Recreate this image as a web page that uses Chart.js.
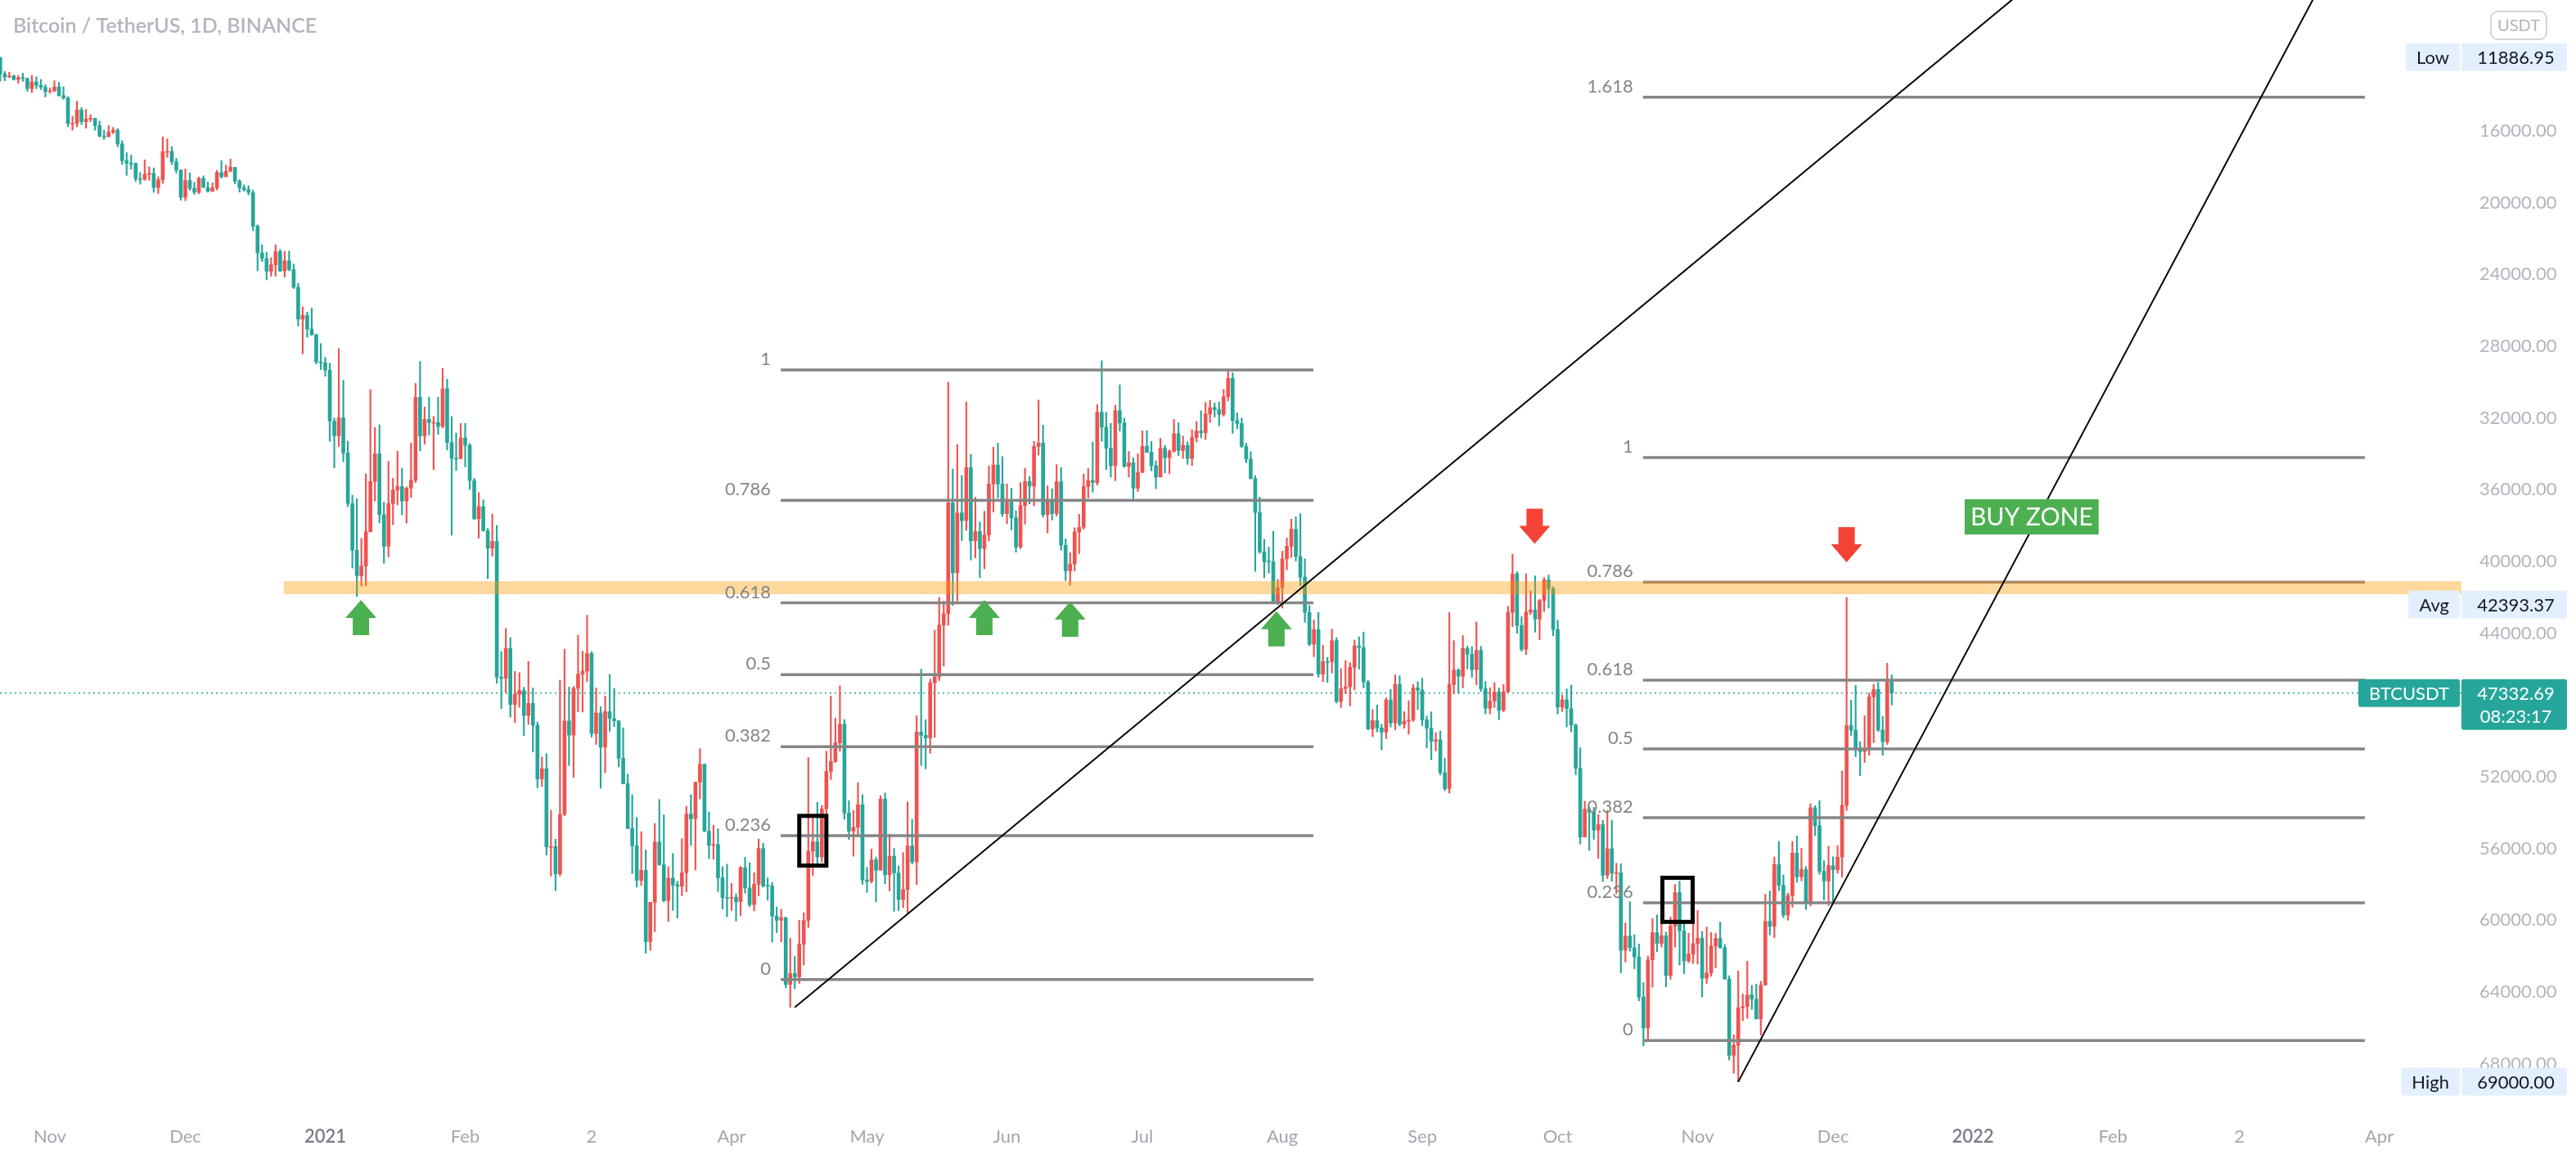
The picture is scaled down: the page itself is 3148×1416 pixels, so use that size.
<!DOCTYPE html>
<html>
<head>
<meta charset="utf-8">
<title>BTCUSDT 1D</title>
<script src="https://cdn.jsdelivr.net/npm/chart.js@4.4.1/dist/chart.umd.min.js"></script>
<style>
  html, body { margin: 0; padding: 0; background: #fff; overflow: hidden; }
  canvas { display: block; }
</style>
</head>
<body>
<canvas id="chart" width="3148" height="1416"></canvas>
<script>
// daily candles, first one is 2020-10-21, values in thousands of USDT
const firstOpenK = 11.92
const closeK = [
  12.82,12.99,12.93,13.13,13.03,13.07,13.64,13.27,13.46,13.56,13.80,
  13.76,13.55,14.03,14.16,15.59,15.58,14.83,15.48,15.33,15.30,15.70,16.28,16.32,16.07,15.96,16.72,17.66,17.80,17.82,18.66,18.70,18.42,18.36,19.16,18.72,17.15,17.14,17.72,18.18,19.70,
  18.76,19.20,19.42,18.65,19.15,19.36,19.17,18.32,18.55,18.25,18.03,18.80,19.17,19.27,19.43,21.31,22.80,23.11,23.82,23.46,22.72,23.81,23.24,23.73,24.71,26.49,26.28,27.04,27.36,28.88,28.92,
  29.33,32.18,33.00,31.99,33.95,36.77,39.37,40.80,40.25,38.35,35.54,34.00,37.39,39.15,36.77,36.01,35.82,36.63,35.91,35.47,30.85,33.00,32.08,32.26,32.25,32.47,30.37,33.37,34.25,34.26,33.11,
  33.52,35.49,37.62,36.94,38.29,39.26,38.87,46.45,46.51,44.84,47.97,47.41,47.19,48.58,47.91,49.13,52.12,51.55,55.91,55.89,57.41,54.09,48.89,49.68,47.07,46.28,46.11,45.13,
  49.59,48.44,50.35,48.37,48.75,48.88,50.97,52.39,54.88,55.85,57.77,57.22,61.19,59.00,55.64,56.90,58.91,57.65,58.03,58.10,57.35,54.08,54.34,52.30,51.30,55.03,55.82,55.78,57.63,58.73,58.74,
  58.72,58.96,57.06,58.20,59.13,57.99,56.00,58.09,58.09,59.77,60.00,59.86,63.58,62.96,63.16,61.33,60.01,56.15,55.63,56.47,53.79,51.70,51.15,50.11,49.08,54.02,55.03,54.82,53.56,57.75,
  57.83,56.63,57.21,53.24,57.47,56.43,57.36,58.84,58.28,55.86,56.75,49.50,49.69,49.84,46.76,46.43,43.54,42.91,36.73,40.63,37.29,37.72,34.77,38.85,38.33,39.28,38.53,35.68,34.62,35.68,37.34,
  36.69,37.57,39.19,36.88,35.54,35.80,33.59,33.40,37.39,36.68,37.33,35.55,39.10,40.52,40.14,38.35,38.09,35.82,35.48,35.60,31.68,32.51,33.68,34.66,31.59,32.28,34.70,34.49,35.91,35.04,
  33.57,33.90,34.66,35.29,33.69,34.22,33.86,32.88,33.81,33.52,34.26,33.09,32.73,32.82,31.78,31.42,31.53,31.80,30.82,29.79,32.14,32.31,33.58,34.29,35.38,37.27,39.46,40.02,40.02,42.24,41.46,
  39.86,39.15,38.20,39.72,40.87,42.84,44.61,43.79,46.28,45.58,45.59,44.41,47.80,47.09,46.99,45.90,44.70,44.80,46.71,49.33,48.87,49.28,49.51,47.71,48.99,46.85,49.07,48.90,48.83,47.05,47.17,
  48.83,49.29,50.03,49.94,51.77,52.66,46.86,46.05,46.40,44.85,45.17,46.03,44.96,47.09,48.18,47.78,47.27,48.29,47.26,42.84,40.69,43.57,44.90,42.82,42.70,43.21,42.17,41.03,41.52,43.79,
  48.12,47.71,48.20,49.11,51.51,55.36,53.81,53.97,54.97,54.66,57.49,56.01,57.37,57.35,61.67,60.88,61.53,62.04,64.28,66.00,62.21,60.69,61.29,60.86,63.08,60.33,58.46,60.59,62.27,61.89,61.30,
  61.00,63.23,62.94,61.44,61.01,61.53,63.27,67.53,66.97,64.88,64.81,64.16,64.40,65.50,63.61,60.06,60.34,56.89,58.05,59.71,58.62,56.25,57.57,57.17,58.96,53.73,54.72,57.27,57.81,56.95,
  57.18,56.48,53.60,49.15,49.40,50.44,50.59,50.47,47.55,47.14,49.39,50.05,46.70,47.33
]
const highK = [
  13.22,13.20,13.03,13.17,13.35,13.24,13.79,13.86,13.64,13.69,14.10,
  13.90,13.82,14.07,14.24,15.77,15.96,15.77,15.65,15.85,15.48,15.96,16.34,16.48,16.33,16.16,16.88,17.86,18.48,18.13,18.82,18.97,18.75,18.75,19.42,19.49,18.92,17.47,17.88,18.35,19.86,
  19.89,19.31,19.53,19.50,19.16,19.42,19.38,19.29,18.63,18.56,18.27,18.95,19.41,19.35,19.57,21.56,23.80,23.28,24.30,24.10,24.10,23.84,24.14,23.80,24.78,26.87,28.42,27.50,27.39,28.99,29.30,
  29.68,33.30,34.78,33.60,34.44,36.94,40.37,41.95,41.38,41.35,38.26,36.63,37.85,40.10,39.75,37.95,36.85,37.40,37.86,36.42,35.60,33.83,33.46,32.94,34.88,32.92,32.56,33.78,38.53,34.93,34.29,
  34.72,35.98,37.66,38.70,38.31,40.96,39.70,46.79,48.20,47.31,48.68,48.98,48.13,49.70,49.08,50.62,52.62,52.55,56.37,57.54,58.35,57.53,54.18,51.37,52.04,48.37,48.39,46.70,
  49.79,50.20,52.64,51.77,49.47,49.20,51.45,52.40,54.90,57.39,58.15,58.06,61.84,61.68,60.63,56.94,58.98,60.07,59.45,59.88,58.63,58.41,55.83,57.20,53.24,55.07,56.57,56.60,58.40,59.37,59.80,
  59.46,60.04,59.75,58.49,59.24,59.48,58.64,58.15,58.88,61.22,60.69,61.20,63.77,64.85,63.82,63.52,62.50,60.41,57.50,57.00,56.76,55.48,52.15,51.20,50.58,54.36,55.50,56.43,55.20,58.00,
  58.45,57.93,58.98,57.20,57.97,58.36,59.50,59.46,59.30,59.59,56.87,58.00,51.37,51.56,50.70,49.80,46.64,45.82,43.55,42.45,42.20,38.83,38.27,39.92,39.80,40.90,40.41,38.86,37.24,36.45,37.50,
  37.90,38.23,39.48,39.29,37.92,36.79,36.90,34.07,37.53,38.40,37.69,37.47,39.38,41.06,41.33,40.53,39.56,38.20,36.46,36.14,35.74,33.30,34.88,35.30,35.50,32.73,34.75,35.30,36.60,36.10,
  35.04,33.94,34.95,35.94,35.29,35.06,35.10,33.90,34.09,34.25,34.59,34.66,33.34,33.11,33.19,32.25,31.95,32.43,31.90,31.05,32.86,32.60,33.65,34.50,35.40,40.55,39.54,40.90,40.64,42.32,42.41,
  42.60,40.46,39.78,39.97,41.35,43.39,44.70,45.31,46.45,46.70,46.74,46.22,47.89,48.14,47.37,48.05,47.16,46.00,47.05,49.38,49.76,49.50,50.50,49.88,49.23,49.38,49.17,49.30,49.63,48.91,48.25,
  49.15,50.40,51.05,50.56,51.90,52.78,52.92,47.38,47.34,47.04,45.99,46.46,46.88,47.25,48.49,48.50,48.14,48.81,48.37,47.33,43.63,44.00,45.00,45.19,42.96,43.94,44.35,42.79,42.60,44.13,
  48.50,48.36,49.23,49.50,51.89,55.75,55.34,56.10,55.49,56.56,57.84,57.68,57.82,58.53,62.93,62.33,61.72,62.70,64.49,67.00,66.64,63.73,61.75,61.49,63.71,63.29,61.50,62.50,62.98,62.36,62.41,
  62.44,64.27,63.52,63.13,62.64,61.56,63.29,67.79,68.53,69.00,65.60,65.46,64.97,65.50,66.40,63.62,60.82,60.98,58.35,59.86,60.00,59.27,57.88,57.80,59.40,59.20,55.28,57.44,58.87,59.18,
  59.04,57.37,57.60,53.87,49.70,50.88,51.94,51.20,50.80,50.10,49.48,50.80,50.20,48.00
]
const lowK = [
  11.89,12.68,12.72,12.88,12.90,12.78,13.05,12.91,12.98,13.13,13.42,
  13.60,13.20,13.29,13.53,14.09,15.18,14.34,14.70,14.80,15.09,15.28,15.45,15.96,15.70,15.80,15.87,16.54,17.21,17.35,17.77,18.32,17.61,18.00,18.06,18.55,16.33,16.44,16.87,17.52,18.18,
  18.12,18.33,18.86,18.57,18.50,18.85,18.90,18.20,17.65,17.91,17.57,18.02,18.71,19.00,19.05,19.29,21.23,22.35,22.75,23.06,22.35,22.60,22.70,22.70,23.42,24.50,25.80,26.10,25.88,27.32,27.85,
  28.62,28.95,32.00,28.13,29.90,33.29,36.30,36.50,38.72,35.11,30.42,32.53,32.38,36.70,34.41,35.36,33.85,34.80,35.84,33.40,30.07,28.85,31.39,30.84,31.91,30.84,29.24,29.84,31.92,32.84,32.30,
  32.30,33.42,35.36,36.16,36.57,38.15,37.35,37.99,45.02,43.73,44.24,46.13,46.20,47.01,45.57,47.05,48.95,50.90,50.71,53.86,55.48,46.61,44.89,47.00,46.97,44.11,45.00,43.00,
  45.02,47.05,48.10,47.50,46.30,47.07,48.88,49.27,51.85,53.00,54.27,55.06,56.08,59.00,54.60,53.27,54.12,57.02,56.27,57.82,55.45,53.65,53.00,52.30,50.43,51.28,53.96,54.70,54.90,57.01,56.87,
  57.94,58.52,57.00,56.48,56.79,57.35,55.47,55.70,57.64,57.90,59.25,59.38,59.82,61.00,62.02,60.00,59.58,50.93,54.22,53.42,53.59,50.58,47.50,48.73,46.93,48.81,53.33,53.88,52.33,53.00,
  57.05,56.03,56.48,53.05,52.90,55.20,56.00,56.97,56.23,53.40,54.37,48.60,46.00,48.82,46.56,43.83,42.00,42.21,30.00,34.85,33.49,35.20,31.11,34.03,36.42,37.80,37.20,34.68,33.63,33.40,34.15,
  35.67,35.92,37.17,35.60,34.80,35.26,33.30,31.00,32.40,35.78,35.94,34.60,34.76,38.73,39.51,38.12,37.37,35.13,34.82,33.34,31.25,28.81,31.68,32.30,31.28,30.15,32.00,33.86,34.23,34.00,
  32.71,32.70,33.31,34.39,33.13,33.53,33.77,32.08,32.26,33.00,33.33,32.66,32.20,31.60,31.13,31.02,31.16,31.10,30.41,29.28,29.48,31.71,32.00,33.40,33.88,35.21,36.41,38.77,39.20,38.31,41.00,
  39.42,38.69,37.64,37.51,37.33,39.85,42.45,43.26,42.84,44.67,45.34,43.77,44.24,45.97,45.52,45.64,44.38,44.20,43.93,46.64,48.25,48.00,49.07,47.60,47.13,46.32,46.37,48.37,47.76,46.86,46.70,
  46.51,48.61,48.38,49.53,49.45,50.97,42.84,44.41,45.98,44.13,44.72,44.75,43.37,44.73,46.69,47.04,46.75,47.05,46.85,42.50,39.60,40.57,43.07,40.68,41.64,40.80,42.10,40.89,40.75,41.41,
  43.28,47.44,47.10,46.89,49.06,50.38,53.36,53.66,53.70,54.10,54.42,53.88,54.42,56.82,56.85,60.15,58.96,60.80,61.32,63.48,62.00,59.90,59.70,59.51,60.66,59.82,58.00,57.82,60.17,60.72,60.07,
  59.45,60.62,60.38,60.68,60.72,60.10,61.35,63.09,66.38,62.82,64.10,62.28,63.63,63.55,63.40,58.56,58.37,56.47,55.60,57.47,58.49,55.61,55.30,55.99,57.00,53.50,53.61,53.33,56.68,55.88,
  56.46,55.84,51.68,42.00,47.73,46.90,50.04,48.60,47.32,46.85,46.75,48.64,45.67,46.33
]

// axis labels (x = day index from 2020-10-21)
const monthTickIdx = [11, 41, 72, 103, 131, 162, 192, 223, 253, 284, 315, 345, 376, 406, 437, 468, 496, 527]
const monthTickText = ['Nov', 'Dec', '2021', 'Feb', '2', 'Apr', 'May', 'Jun', 'Jul', 'Aug', 'Sep', 'Oct', 'Nov', 'Dec', '2022', 'Feb', '2', 'Apr']
const priceTicks = [12000, 16000, 20000, 24000, 28000, 32000, 36000, 40000, 44000, 48000, 52000, 56000, 60000, 64000, 68000]

// fibonacci retracements
const fibRatiosLeft = [0, 0.236, 0.382, 0.5, 0.618, 0.786, 1]
const fibLeftFrom = [172.9, 290.9]
const fibLeftPrice = [63300, 29320]
const fibRatiosRight = [0, 0.236, 0.382, 0.5, 0.618, 0.786, 1, 1.618]
const fibRightFrom = [363.9, 523.8]
const fibRightPrice = [66700, 34200]

// trend lines [x0, p0, x1, p1]
const trendLine1 = [176, 64854, 460, 5700]
const trendLine2 = [385, 69000, 530, 287]

// support band
const bandFrom = 62.8
const bandPrice = 41460

// markers
const upArrowX = [79.9, 218, 237, 282.7]
const upArrowTip = [42140, 42140, 42240, 42770]
const downArrowX = [339.9, 409]
const downArrowTip = [39020, 40050]
const boxX = [[177, 183], [368.2, 374.9]]
const boxPrice = [[54180, 56950], [57630, 60090]]
const buyZoneX = 450
const buyZonePrice = 37490

// right scale badges
const lowValue = 11886.95
const highValue = 69000
const avgValue = 42393.37
const lastPrice = 47332.69
const countdown = '08:23:17'

const xMin = -0.054
const xMax = 545.2
const UP = '#26a69a'
const DOWN = '#ef5350'
const FIB = '#858585'
const FONT = 'Lato, "Open Sans", sans-serif'

Chart.defaults.font.family = FONT

const opens = closeK.map((c, i) => (i === 0 ? firstOpenK : closeK[i - 1]) * 1000)
const closes = closeK.map(v => v * 1000)
const highs = highK.map(v => v * 1000)
const lows = lowK.map(v => v * 1000)
const candleColors = closes.map((c, i) => c >= opens[i] ? UP : DOWN)

function segment(x0, y0, x1, y1) {
  return [{x: x0, y: y0}, {x: x1, y: y1}]
}

const datasets = []

datasets.push({
  type: 'line',
  data: segment(xMin, lastPrice, xMax, lastPrice),
  borderColor: UP,
  borderWidth: 1.5,
  borderDash: [2, 4],
  pointRadius: 0,
  order: 10
})

datasets.push({
  type: 'bar',
  data: closes.map((c, i) => ({x: i, y: [lows[i], highs[i]]})),
  backgroundColor: candleColors,
  barThickness: 1.5,
  grouped: false,
  order: 9
})

datasets.push({
  type: 'bar',
  data: closes.map((c, i) => ({x: i, y: [opens[i], c]})),
  backgroundColor: candleColors,
  barThickness: 4,
  minBarLength: 1,
  grouped: false,
  order: 8
})

function addFib(ratios, from, price) {
  ratios.forEach(r => {
    const p = price[0] + (price[1] - price[0]) * r
    datasets.push({
      type: 'line',
      data: segment(from[0], p, from[1], p),
      borderColor: FIB,
      borderWidth: 3.5,
      pointRadius: 0,
      order: 5
    })
  })
}
addFib(fibRatiosLeft, fibLeftFrom, fibLeftPrice)
addFib(fibRatiosRight, fibRightFrom, fibRightPrice)

datasets.push({
  type: 'line',
  data: segment(bandFrom, bandPrice, xMax, bandPrice),
  borderColor: 'rgba(255, 152, 0, 0.38)',
  borderWidth: 16,
  borderCapStyle: 'butt',
  pointRadius: 0,
  order: 3
})

;[trendLine1, trendLine2].forEach(t => {
  datasets.push({
    type: 'line',
    data: segment(t[0], t[1], t[2], t[3]),
    borderColor: '#000',
    borderWidth: 2,
    pointRadius: 0,
    order: 1
  })
})

function drawArrow(ctx, x, tip, dir, color) {
  const headW = 38, headH = 22, stemW = 20, stemH = 21
  ctx.fillStyle = color
  ctx.beginPath()
  ctx.moveTo(x, tip)
  ctx.lineTo(x + headW / 2, tip + dir * headH)
  ctx.lineTo(x + stemW / 2, tip + dir * headH)
  ctx.lineTo(x + stemW / 2, tip + dir * (headH + stemH))
  ctx.lineTo(x - stemW / 2, tip + dir * (headH + stemH))
  ctx.lineTo(x - stemW / 2, tip + dir * headH)
  ctx.lineTo(x - headW / 2, tip + dir * headH)
  ctx.closePath()
  ctx.fill()
}

function fillRound(ctx, x, y, w, h, r, color) {
  ctx.fillStyle = color
  ctx.beginPath()
  ctx.roundRect(x, y, w, h, r)
  ctx.fill()
}

const overlay = {
  id: 'overlay',
  afterDatasetsDraw(chart) {
    const ctx = chart.ctx
    const xs = chart.scales.x
    const ys = chart.scales.y
    ctx.save()

    // fib labels
    ctx.font = '22px ' + FONT
    ctx.fillStyle = FIB
    ctx.textAlign = 'right'
    ctx.textBaseline = 'middle'
    const fibText = (ratios, from, price) => {
      ratios.forEach(r => {
        const p = price[0] + (price[1] - price[0]) * r
        ctx.fillText(String(r), xs.getPixelForValue(from[0]) - 12, ys.getPixelForValue(p) - 13)
      })
    }
    fibText(fibRatiosLeft, fibLeftFrom, fibLeftPrice)
    fibText(fibRatiosRight, fibRightFrom, fibRightPrice)

    // black boxes
    ctx.strokeStyle = '#000'
    ctx.lineWidth = 5
    boxX.forEach((bx, k) => {
      const x0 = xs.getPixelForValue(bx[0])
      const x1 = xs.getPixelForValue(bx[1])
      const y0 = ys.getPixelForValue(boxPrice[k][0])
      const y1 = ys.getPixelForValue(boxPrice[k][1])
      ctx.strokeRect(x0, y0, x1 - x0, y1 - y0)
    })

    // arrows
    upArrowX.forEach((v, k) => drawArrow(ctx, xs.getPixelForValue(v), ys.getPixelForValue(upArrowTip[k]), 1, '#4caf50'))
    downArrowX.forEach((v, k) => drawArrow(ctx, xs.getPixelForValue(v), ys.getPixelForValue(downArrowTip[k]), -1, '#f44336'))

    // BUY ZONE label
    ctx.font = '30px ' + FONT
    const bzW = ctx.measureText('BUY ZONE').width + 14
    const bzX = xs.getPixelForValue(buyZoneX)
    const bzY = ys.getPixelForValue(buyZonePrice)
    ctx.fillStyle = '#4caf50'
    ctx.fillRect(bzX - bzW / 2, bzY - 21, bzW, 43)
    ctx.fillStyle = '#fff'
    ctx.textAlign = 'center'
    ctx.fillText('BUY ZONE', bzX, bzY + 1)

    // title
    ctx.font = '600 25px ' + FONT
    ctx.fillStyle = '#b2b5be'
    ctx.textAlign = 'left'
    ctx.fillText('Bitcoin / TetherUS, 1D, BINANCE', 16, 32)
    ctx.restore()
  },
  afterDraw(chart) {
    const ctx = chart.ctx
    const ys = chart.scales.y
    const right = chart.chartArea.right
    const valX = right, valW = 129
    ctx.save()
    ctx.textBaseline = 'middle'
    ctx.textAlign = 'center'

    // USDT currency box
    ctx.strokeStyle = '#d1d4dc'
    ctx.lineWidth = 2
    ctx.beginPath()
    ctx.roundRect(3044, 14, 68, 34, 8)
    ctx.stroke()
    ctx.fillStyle = '#b2b5be'
    ctx.font = '20px ' + FONT
    ctx.fillText('USDT', 3078, 32)
    ctx.font = '22px ' + FONT

    const infoBadge = (label, value, price) => {
      const y = ys.getPixelForValue(price)
      const lw = ctx.measureText(label).width + 26
      fillRound(ctx, right - 2 - lw, y - 17, lw, 34, 2, '#e3effd')
      fillRound(ctx, valX, y - 17, valW, 34, 2, '#e3effd')
      ctx.fillStyle = '#131722'
      ctx.fillText(label, right - 2 - lw / 2, y + 1)
      ctx.fillText(value, valX + valW / 2 + 2, y + 1)
    }
    infoBadge('Low', lowValue.toFixed(2), lowValue)
    infoBadge('Avg', avgValue.toFixed(2), avgValue)
    infoBadge('High', highValue.toFixed(2), highValue)

    // last price
    const y = ys.getPixelForValue(lastPrice)
    const lw = ctx.measureText('BTCUSDT').width + 26
    fillRound(ctx, right - 2 - lw, y - 17, lw, 34, 3, UP)
    fillRound(ctx, valX, y - 17, valW, 62, 3, UP)
    ctx.fillStyle = '#fff'
    ctx.fillText('BTCUSDT', right - 2 - lw / 2, y + 1)
    ctx.fillText(lastPrice.toFixed(2), valX + valW / 2 + 2, y + 1)
    ctx.fillText(countdown, valX + valW / 2 + 2, y + 29)
    ctx.restore()
  }
}

new Chart(document.getElementById('chart'), {
  type: 'bar',
  data: {datasets: datasets},
  options: {
    responsive: false,
    devicePixelRatio: 1,
    animation: false,
    events: [],
    layout: {padding: 0, autoPadding: false},
    plugins: {legend: {display: false}, tooltip: {enabled: false}},
    scales: {
      x: {
        type: 'linear',
        min: xMin,
        max: xMax,
        offset: false,
        grid: {display: false, drawTicks: false},
        border: {display: false},
        afterBuildTicks: s => { s.ticks = monthTickIdx.map(v => ({value: v})) },
        afterFit: s => { s.height = 61; s.paddingLeft = 0; s.paddingRight = 0 },
        ticks: {
          autoSkip: false,
          maxRotation: 0,
          padding: 21,
          callback: (v, i) => monthTickText[i],
          color: c => /^20/.test(monthTickText[c.index]) ? '#787b86' : '#a3a6af',
          font: c => ({size: 22, weight: /^20/.test(monthTickText[c.index]) ? '600' : '400'})
        }
      },
      y: {
        type: 'linear',
        position: 'right',
        reverse: true,
        min: 8700,
        max: 70524,
        grid: {display: false, drawTicks: false},
        border: {display: false},
        afterBuildTicks: s => { s.ticks = priceTicks.map(v => ({value: v})) },
        afterFit: s => { s.width = 140; s.paddingTop = 0; s.paddingBottom = 0 },
        ticks: {
          padding: 22,
          color: '#b2b5be',
          font: {size: 22},
          callback: v => v.toFixed(2)
        }
      }
    }
  },
  plugins: [overlay]
})
</script>
</body>
</html>
